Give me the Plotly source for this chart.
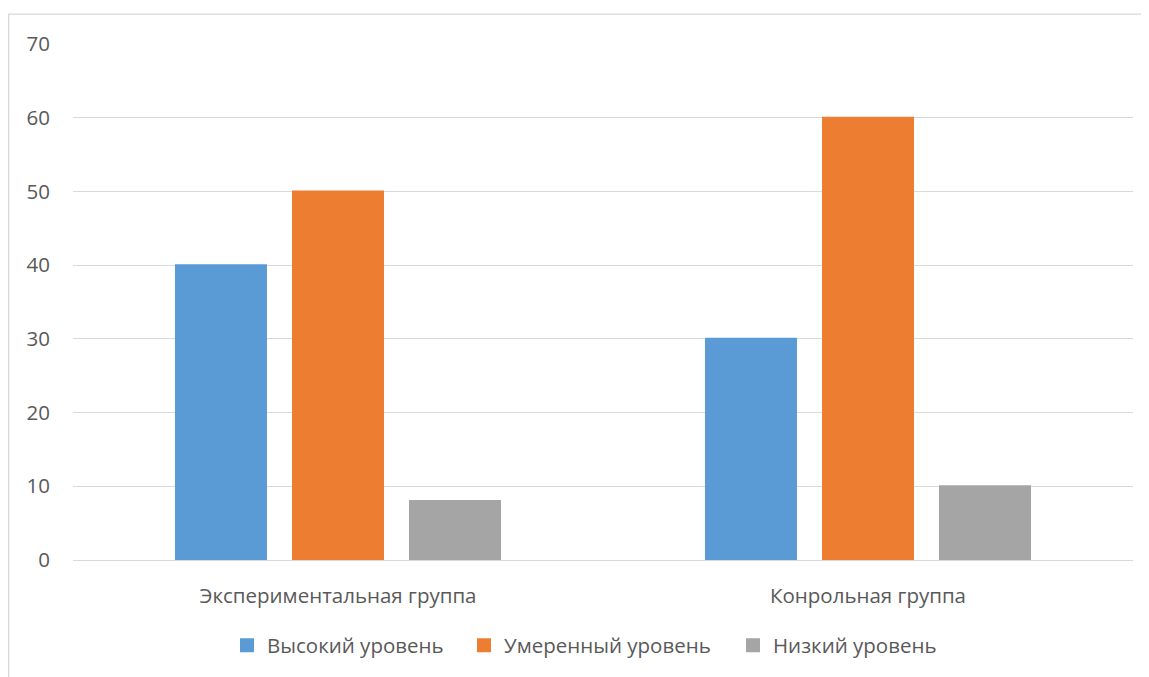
import plotly.graph_objects as go

categories = ["Экспериментальная группа", "Конрольная группа"]
series_names = ["Высокий уровень", "Умеренный уровень", "Низкий уровень"]
high = [40, 30]
moderate = [50, 60]
low = [8, 10]
colors = ["#5B9BD5", "#ED7D31", "#A5A5A5"]
legend_widths = [192, 224, 164]
y_ticks = [0, 10, 20, 30, 40, 50, 60, 70]

fig = go.Figure()
for name, vals, col, lw in zip(series_names, [high, moderate, low], colors, legend_widths):
    fig.add_trace(go.Bar(x=categories, y=vals, name=name, legendwidth=lw,
                         marker=dict(color=col, line=dict(width=2, color=col))))

# page body has an 8px margin, so the figure is drawn 8px in from the window's top-left
OFF = 8
W, H = 1149 - OFF, 677 - OFF
L, R, T, B = 73 - OFF, 16, 44 - OFF, 114
pw, ph = W - L - R, H - T - B

def px2x(px):
    return (px - OFF - L) / pw

def py2y(py):
    return (H - B - (py - OFF)) / ph

FS = 20.5
fig.update_layout(
    width=W, height=H,
    margin=dict(l=L, r=R, t=T, b=B),
    paper_bgcolor="white", plot_bgcolor="white",
    barmode="group", bargap=0.3377, bargroupgap=0.2308,
    font=dict(family="Open Sans", color="#595959", size=FS),
    showlegend=True,
    legend=dict(orientation="h", x=px2x(227), xanchor="left", y=py2y(649), yanchor="middle",
                font=dict(size=FS, color="#595959"), itemwidth=30, traceorder="normal"),
    xaxis=dict(showgrid=False, showline=False, ticks="", tickfont=dict(size=FS),
               ticklabelstandoff=21),
    yaxis=dict(range=[0, 70], tickvals=y_ticks, showgrid=True, gridcolor="#D9D9D9", gridwidth=1.3,
               zeroline=True, zerolinecolor="#D9D9D9", zerolinewidth=1.3,
               tickfont=dict(size=FS), ticklabelstandoff=22, showline=False),
    shapes=[dict(type="rect", xref="paper", yref="paper",
                 x0=px2x(8.7), x1=px2x(1200), y0=py2y(760), y1=py2y(14),
                 line=dict(color="#D9D9D9", width=1.3), fillcolor="rgba(0,0,0,0)", layer="below")],
)

fig.write_html("out.html")
